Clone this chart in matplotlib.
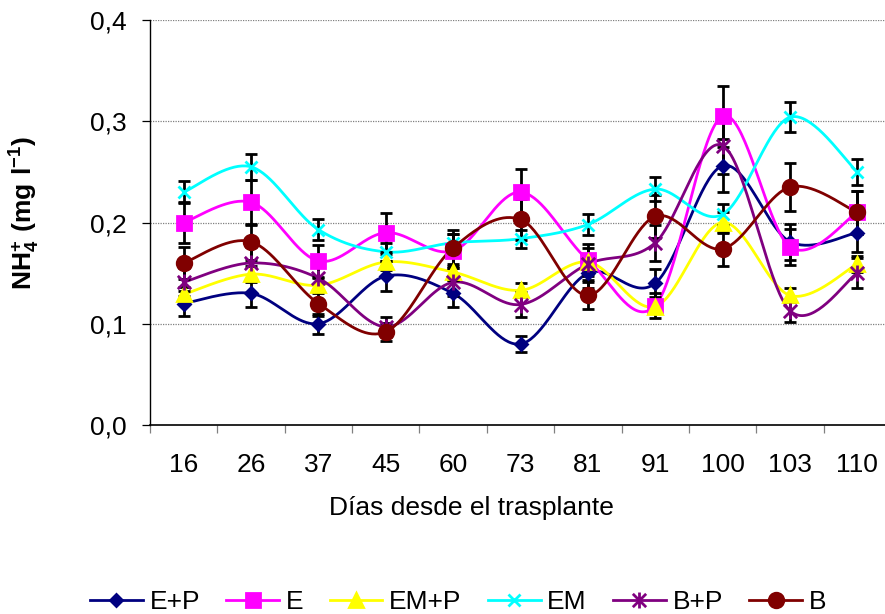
import numpy as np
import matplotlib
matplotlib.use("Agg")
import matplotlib.pyplot as plt
from matplotlib.path import Path
from matplotlib.lines import Line2D

plt.rcParams.update({
    "font.family": ["Liberation Sans", "DejaVu Sans"],
    "mathtext.fontset": "custom",
    "mathtext.rm": "Liberation Sans",
    "mathtext.bf": "Liberation Sans:bold",
})

# Data
dias = ["16", "26", "37", "45", "60", "73", "81", "91", "100", "103", "110"]

ep = [0.120, 0.130, 0.100, 0.147, 0.130, 0.080, 0.150, 0.140, 0.256, 0.181, 0.190]
e = [0.200, 0.220, 0.162, 0.190, 0.172, 0.230, 0.163, 0.118, 0.305, 0.176, 0.210]
emp = [0.129, 0.149, 0.138, 0.161, 0.151, 0.133, 0.161, 0.117, 0.200, 0.128, 0.159]
em = [0.230, 0.255, 0.193, 0.171, 0.180, 0.184, 0.198, 0.233, 0.208, 0.304, 0.250]
bp = [0.141, 0.160, 0.145, 0.097, 0.141, 0.119, 0.159, 0.180, 0.276, 0.113, 0.150]
b = [0.160, 0.181, 0.120, 0.092, 0.175, 0.203, 0.128, 0.206, 0.174, 0.235, 0.210]

ep_err = [0.012, 0.013, 0.010, 0.015, 0.013, 0.008, 0.015, 0.014, 0.026, 0.018, 0.019]
e_err = [0.020, 0.022, 0.016, 0.019, 0.017, 0.023, 0.016, 0.012, 0.030, 0.018, 0.021]
emp_err = [0.007, 0.008, 0.007, 0.008, 0.008, 0.007, 0.008, 0.006, 0.010, 0.007, 0.008]
em_err = [0.011, 0.013, 0.010, 0.009, 0.009, 0.009, 0.010, 0.012, 0.010, 0.015, 0.013]
bp_err = [0.014, 0.016, 0.015, 0.010, 0.014, 0.012, 0.016, 0.018, 0.028, 0.011, 0.015]
b_err = [0.016, 0.018, 0.012, 0.009, 0.018, 0.020, 0.013, 0.021, 0.017, 0.024, 0.021]

# Excel-like "star" marker: an x with a vertical stroke
star = Path([(-1, -1), (1, 1), (-1, 1), (1, -1), (0, -1.2), (0, 1.2)],
            [Path.MOVETO, Path.LINETO, Path.MOVETO, Path.LINETO, Path.MOVETO, Path.LINETO])

series = [
    ("E+P", ep, ep_err, "#000080", "D", 6.5),
    ("E", e, e_err, "#FF00FF", "s", 10.0),
    ("EM+P", emp, emp_err, "#FFFF00", "^", 10.0),
    ("EM", em, em_err, "#00FFFF", "x", 9.0),
    ("B+P", bp, bp_err, "#800080", star, 11.5),
    ("B", b, b_err, "#800000", "o", 10.5),
]


def smooth(x, y, n=40):
    """Bezier smoothing through the points (Catmull-Rom control points)."""
    pts = np.column_stack([x, y]).astype(float)
    p = np.vstack([pts[0], pts, pts[-1]])
    t = np.linspace(0, 1, n)[:, None]
    out = []
    for i in range(len(pts) - 1):
        p0, p1, p2, p3 = p[i], p[i + 1], p[i + 2], p[i + 3]
        c1 = p1 + (p2 - p0) / 6
        c2 = p2 - (p3 - p1) / 6
        seg = ((1 - t) ** 3) * p1 + 3 * ((1 - t) ** 2) * t * c1 + 3 * (1 - t) * t ** 2 * c2 + t ** 3 * p2
        out.append(seg if i == 0 else seg[1:])
    out = np.vstack(out)
    return out[:, 0], out[:, 1]


W, H = 885, 614
fig = plt.figure(figsize=(W / 100, H / 100), dpi=100)
ax = fig.add_axes([150 / W, 1 - 425 / H, 741 / W, 405 / H])

x = np.arange(len(dias))
handles = []
for name, vals, err, col, mk, ms in series:
    sx, sy = smooth(x, vals)
    ax.plot(sx, sy, color=col, lw=2.0, zorder=2)
    ax.errorbar(x, vals, yerr=err, fmt="none", ecolor="black", elinewidth=2.0,
                capsize=4.5, capthick=2.0, zorder=3)
    ax.plot(x, vals, ls="none", marker=mk, ms=ms, color=col, mec=col,
            mew=2.0, zorder=4)
    handles.append(Line2D([], [], color=col, lw=2.0, marker=mk, ms=ms,
                          mec=col, mew=2.0, label=name))

ax.set_xlim(-0.5, 10.5)
ax.set_ylim(0, 0.4)
ax.set_yticks([0.0, 0.1, 0.2, 0.3, 0.4])
ax.set_yticklabels(["0,0", "0,1", "0,2", "0,3", "0,4"])
ax.set_xticks(x)
ax.set_xticklabels(dias)
ax.set_xticks(np.arange(-0.5, 11, 1), minor=True)

ax.tick_params(axis="x", which="major", length=0, pad=20, labelsize=19)
ax.tick_params(axis="x", which="minor", length=5.8, width=0.9, color="#808080")
ax.tick_params(axis="y", length=5.8, width=0.9, pad=11, labelsize=19)

for yv in [0.1, 0.2, 0.3, 0.4]:
    ax.axhline(yv, color="#808080", lw=0.9, ls=(0, (1, 1)), zorder=1)

ax.spines["top"].set_visible(False)
ax.spines["right"].set_visible(False)
ax.spines["left"].set_linewidth(1.0)
ax.spines["bottom"].set_linewidth(1.2)

fig.text(25 / W, 1 - 213 / H, r"$\mathbf{NH_4^{\!+}\,(mg\ l^{-1})}$",
         rotation=90, ha="center", va="center", fontsize=19, fontweight="bold")
fig.text(471 / W, 1 - 508 / H, "Días desde el trasplante", ha="center", va="center",
         fontsize=19)

fig.legend(handles=handles, loc="center left", bbox_to_anchor=(90 / W, 1 - 602 / H),
           ncol=6, frameon=False, fontsize=19, handlelength=2.0, handletextpad=0.25,
           columnspacing=1.0, borderpad=0, borderaxespad=0)

fig.savefig("out.png", dpi=100)
